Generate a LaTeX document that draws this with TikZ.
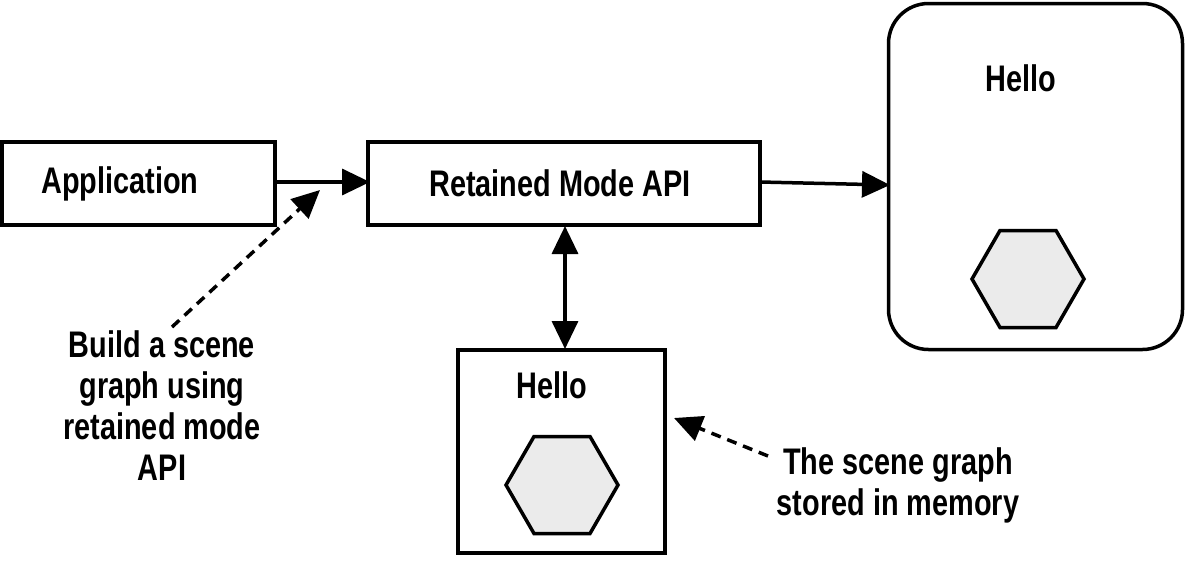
\documentclass[tikz,border=0pt]{standalone}
\usepackage{fontspec}
\setmainfont{Liberation Sans}[FakeStretch=0.78]
\usetikzlibrary{arrows.meta,shapes.geometric}
\begin{document}
\begin{tikzpicture}[x=1pt,y=-1pt,
  box/.style={draw,line width=3.5pt,inner sep=0pt},
  lbl/.style={font=\fontsize{37}{41}\selectfont\bfseries,inner sep=0pt,align=center},
  hexa/.style={regular polygon,regular polygon sides=6,draw,line width=3.5pt,fill=black!8,minimum size=112pt,inner sep=0pt},
  arr/.style={line width=3.5pt,-{Triangle[length=28pt,width=26pt]}},
  darr/.style={line width=3.5pt,{Triangle[length=28pt,width=26pt]}-{Triangle[length=28pt,width=26pt]}},
  dsh/.style={line width=3.5pt,dash pattern=on 10pt off 7pt,-{Triangle[length=28pt,width=26pt]}}]
\useasboundingbox (0,0) rectangle (1188,563);
\node[box,minimum width=273pt,minimum height=83pt] (app) at (138.5,183.5) {};
\node[lbl] at (120,183.5) {Application};
\node[box,minimum width=392pt,minimum height=83pt] (rma) at (564,183.5) {};
\node[lbl] (rmat) at (560,183.5) {Retained Mode API};
\node[box,rounded corners=40pt,minimum width=294pt,minimum height=346pt] (scr) at (1035.5,176.5) {};
\node[lbl] at (1021,78) {Hello};
\node[hexa] (h1) at (1028,279) {};
\node[box,minimum width=207pt,minimum height=203pt] (mem) at (561.5,451.5) {};
\node[lbl] at (552,385) {Hello};
\node[hexa] (h2) at (562,485) {};
\coordinate (a1) at (275,182);
\coordinate (a2) at (370,182);
\draw[arr] (a1) -- (a2);
\coordinate (b1) at (760,182);
\coordinate (b2) at (890,185);
\draw[arr] (b1) -- (b2);
\draw[darr] (565,226) -- (565,349);
\node[lbl] (build) at (162,406) {Build a scene\\graph using\\retained mode\\API};
\node[lbl] (stored) at (898,485) {The scene graph\\stored in memory};
\coordinate (d1) at (172,327);
\coordinate (d2) at (320,190);
\draw[dsh] (d1) -- (d2);
\coordinate (e1) at (768,456);
\coordinate (e2) at (674,418);
\draw[dsh] (e1) -- (e2);
\end{tikzpicture}
\end{document}
